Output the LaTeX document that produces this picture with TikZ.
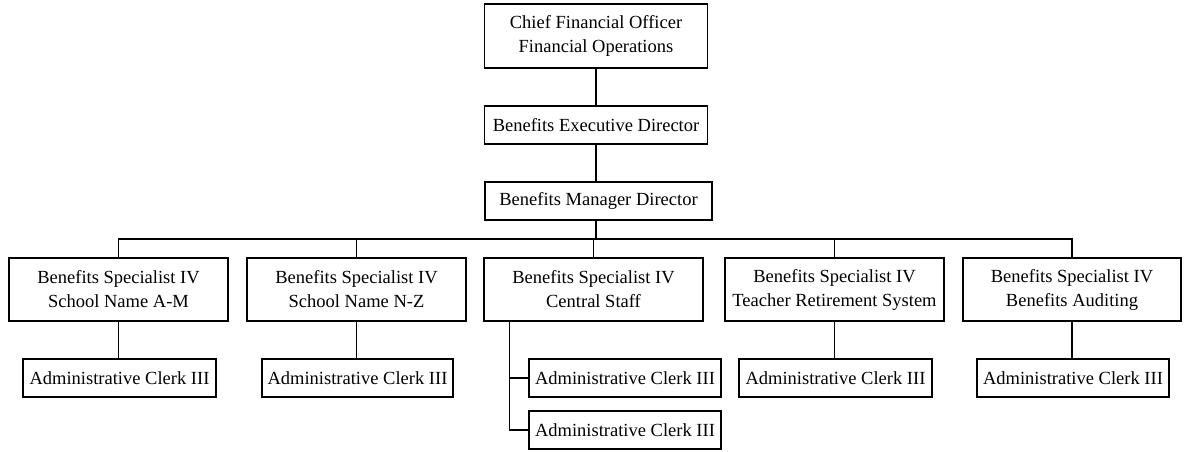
\documentclass[tikz,border=0pt]{standalone}
\usepackage{fontspec}
\setmainfont{Liberation Serif}
\usetikzlibrary{calc}
\begin{document}
\begin{tikzpicture}[x=1pt,y=-1pt,
  every node/.style={font=\fontsize{18.5}{24}\selectfont},
  unit/.style={draw=black, line width=1.2pt, fill=white, align=center,
    inner sep=0pt, minimum height=#1},
  unit/.default=38pt,
  link/.style={draw=black, line width=1.2pt}]
\useasboundingbox[fill=white] (0,0) rectangle (1188,451);

% top of the chain
\node[unit=64pt, minimum width=223pt] (cfo) at (596,36) {Chief Financial Officer\\Financial Operations};
\node[unit, minimum width=223pt] (exec) at (596,125) {Benefits Executive Director};
\node[unit, minimum width=227pt] (mgr) at (598.5,201) {Benefits Manager Director};

% specialists
\node[unit=63pt, minimum width=219pt] (s1) at (118.5,289.5) {Benefits Specialist IV\\School Name A-M};
\node[unit=63pt, minimum width=219pt] (s2) at (356.5,289.5) {Benefits Specialist IV\\School Name N-Z};
\node[unit=63pt, minimum width=219pt] (s3) at (593.5,289.5) {Benefits Specialist IV\\Central Staff};
\node[unit=63pt, minimum width=219pt] (s4) at (834.5,289.5) {Benefits Specialist IV\\Teacher Retirement System};
\node[unit=63pt, minimum width=218pt] (s5) at (1072,289.5) {Benefits Specialist IV\\Benefits Auditing};

% clerks
\node[unit, minimum width=193pt] (c1) at (119.5,378) {Administrative Clerk III};
\node[unit, minimum width=191pt] (c2) at (357.5,378) {Administrative Clerk III};
\node[unit, minimum width=192pt] (c3a) at (625,378) {Administrative Clerk III};
\node[unit, minimum width=192pt] (c3b) at (625,430) {Administrative Clerk III};
\node[unit, minimum width=193pt] (c4) at (835.5,378) {Administrative Clerk III};
\node[unit, minimum width=192pt] (c5) at (1073,378) {Administrative Clerk III};

% connectors
\coordinate (bus) at (596,239);
\coordinate (stem) at ($(s3.south west)+(26,0)$);
\draw[link] (cfo.south) -- (exec.north);
\draw[link] (exec.south) -- (exec.south |- mgr.north);
\draw[link] (exec.south |- mgr.south) -- (exec.south |- bus);
\draw[link] (s1.north) -- (s1.north |- bus) -- (s5.north |- bus) -- (s5.north);
\draw[link] (s2.north) -- (s2.north |- bus);
\draw[link] (s3.north) -- (s3.north |- bus);
\draw[link] (s4.north) -- (s4.north |- bus);
\draw[link] (s1.south) -- (s1.south |- c1.north);
\draw[link] (s2.south) -- (s2.south |- c2.north);
\draw[link] (s4.south) -- (s4.south |- c4.north);
\draw[link] (s5.south) -- (s5.south |- c5.north);
\draw[link] (stem) |- (c3b.west);
\draw[link] (stem |- c3a.west) -- (c3a.west);
\end{tikzpicture}
\end{document}
